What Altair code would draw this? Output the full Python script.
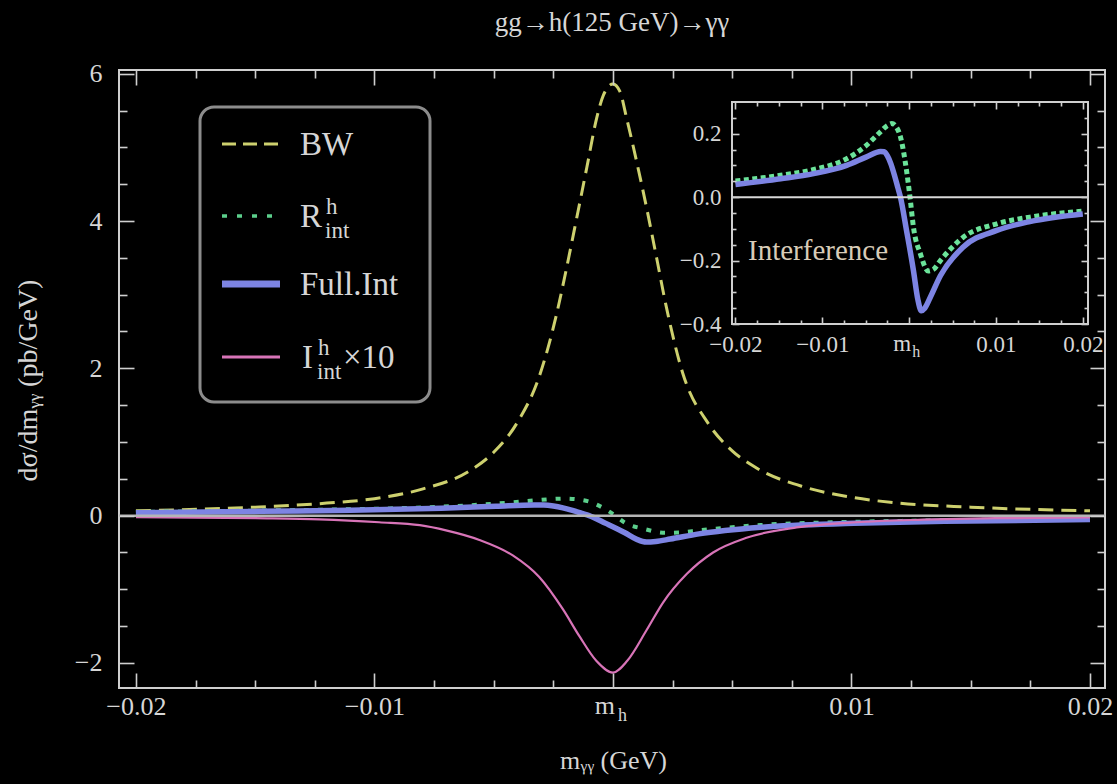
import altair as alt
import pandas as pd

# ------------------------------------------------------------------ data
BW_X = [-0.0200, -0.0150, -0.0120, -0.0100, -0.0080, -0.0060, -0.0050, -0.0040, -0.0031, -0.00236,
        -0.00194, -0.00152, -0.00110, -0.00068, -0.00040, 0.0, 0.00029, 0.00057, 0.00099, 0.00141,
        0.00183, 0.00224, 0.00293, 0.0040, 0.0050, 0.0060, 0.0080, 0.0100, 0.0120, 0.0150, 0.0200]
BW_Y = [0.065, 0.115, 0.17, 0.23, 0.36, 0.61, 0.86, 1.27, 1.88, 2.74,
        3.37, 4.04, 4.72, 5.40, 5.71, 5.86, 5.76, 5.40, 4.81, 4.18,
        3.50, 2.83, 1.93, 1.25, 0.88, 0.65, 0.39, 0.25, 0.17, 0.115, 0.065]

R_X = [-0.0200, -0.0148, -0.0110, -0.0072, -0.0049, -0.0033, -0.0025, -0.0020, -0.0015, -0.0010,
       -0.0003, 0.0001, 0.0005, 0.0013, 0.0022, 0.0028, 0.0036, 0.0062, 0.0101, 0.0139, 0.0200]
R_Y = [0.051, 0.069, 0.087, 0.121, 0.164, 0.206, 0.226, 0.232, 0.222, 0.190,
       0.084, 0.000, -0.095, -0.179, -0.233, -0.228, -0.200, -0.127, -0.084, -0.063, -0.044]

FULL_X = [-0.0200, -0.0148, -0.0110, -0.0072, -0.0049, -0.0033, -0.0029, -0.0025, -0.0021, -0.0017,
          -0.0013, -0.0010, -0.0003, 0.0005, 0.0010, 0.0014, 0.0018, 0.0024, 0.0036, 0.0062,
          0.0101, 0.0139, 0.0200]
FULL_Y = [0.040, 0.058, 0.074, 0.100, 0.127, 0.144, 0.143, 0.130, 0.105, 0.070,
          0.030, 0.000, -0.105, -0.232, -0.322, -0.358, -0.350, -0.318, -0.248, -0.158,
          -0.105, -0.077, -0.053]

INT_X = [-0.0200, -0.0150, -0.0123, -0.0098, -0.0081, -0.0070, -0.0056, -0.0042, -0.0031, -0.0021,
         -0.0014, -0.0007, 0.0000, 0.0006, 0.0014, 0.0021, 0.0031, 0.0042, 0.0056, 0.0077,
         0.0102, 0.0130, 0.0160, 0.0200]
INT_Y = [-0.020, -0.035, -0.050, -0.090, -0.13, -0.20, -0.33, -0.54, -0.83, -1.27,
         -1.64, -1.97, -2.13, -1.97, -1.56, -1.18, -0.79, -0.50, -0.30, -0.16,
         -0.09, -0.055, -0.035, -0.025]

X_MAJOR = [-0.02, -0.01, 0.0, 0.01, 0.02]
X_MINOR = [-0.0175, -0.015, -0.0125, -0.0075, -0.005, -0.0025,
           0.0025, 0.005, 0.0075, 0.0125, 0.015, 0.0175]
Y_MAJOR = [-2, 0, 2, 4, 6]
Y_MINOR = [-1.5, -1, -0.5, 0.5, 1, 1.5, 2.5, 3, 3.5, 4.5, 5, 5.5]
IY_MAJOR = [-0.4, -0.2, 0.0, 0.2]
IY_MINOR = [-0.35, -0.3, -0.25, -0.15, -0.1, -0.05, 0.05, 0.1, 0.15, 0.25]

TITLE = "gg→h(125 GeV)→γγ"
X_TITLE = "mᵧᵧ (GeV)"
Y_TITLE = "dσ/dmᵧᵧ (pb/GeV)"
INSET_LABEL = "Interference"
MH_MAIN, MH_SUB = "m", "h"
LEGEND_LABELS = ["BW", "R", "Full.Int", "I"]
LEGEND_SUP = [None, "h", None, "h"]
LEGEND_SUB = [None, "int", None, "int"]
LEGEND_TAIL = [None, None, None, "×10"]

# ------------------------------------------------------------------ styling / layout
W, H = 986, 618
MX_DOM = [-0.02071, 0.02063]
MY_DOM = [-2.34, 6.05]
IX_DOM = [-0.0204, 0.0206]
IY_DOM = [-0.4, 0.3]
IX_RANGE = [613, 969]
IY_RANGE = [254, 32]

FONT = "Liberation Serif"
TXT = "#d6d6d6"
TICK = "#cfcfcf"
C_BW = "#cdd06e"
C_R = "#5ccf8c"
C_R_IN = "#6be39a"
C_FULL = "#7d84e3"
C_INT = "#d874b8"

MX = alt.Scale(domain=MX_DOM, nice=False, zero=False)
MY = alt.Scale(domain=MY_DOM, nice=False, zero=False)
IX = alt.Scale(domain=IX_DOM, range=IX_RANGE, nice=False, zero=False)
IY = alt.Scale(domain=IY_DOM, range=IY_RANGE, nice=False, zero=False)

XLAB = "datum.value == 0 ? '' : (datum.value < 0 ? '−' + format(-datum.value, '.2f') : format(datum.value, '.2f'))"
YLAB = "datum.value < 0 ? '−' + format(-datum.value, 'd') : format(datum.value, 'd')"
IYLAB = "datum.value < -0.001 ? '−' + format(-datum.value, '.1f') : format(abs(datum.value), '.1f')"


def ax(orient, values, size, offset, **kw):
    d = dict(orient=orient, values=values, tickSize=size, offset=offset, domain=False, grid=False,
             tickColor=TICK, tickWidth=1.6, labels=False, zindex=1, title=None)
    d.update(kw)
    return alt.Axis(**d)


def lab(expr, size, pad):
    return dict(labels=True, labelExpr=expr, labelFont=FONT, labelFontSize=size, labelColor=TXT,
                labelPadding=pad, labelFlush=False, labelOverlap=False)


def line(xs, ys, xs_scale, ys_scale, xaxis, yaxis, **mark):
    return alt.Chart(pd.DataFrame({"x": xs, "v": ys})).mark_line(interpolate="monotone", **mark).encode(
        x=alt.X("x:Q", scale=xs_scale, axis=xaxis),
        y=alt.Y("v:Q", scale=ys_scale, axis=yaxis),
    )


def sub_text(text, scale, size, dx, align, y):
    return alt.Chart(pd.DataFrame({"x": [0.0]})).mark_text(
        text=text, font=FONT, fontSize=size, color=TXT, align=align, baseline="alphabetic", dx=dx
    ).encode(x=alt.X("x:Q", scale=scale, axis=None), y=alt.value(y))


one = pd.DataFrame({"a": [0]})

# ------------------------------------------------------------------ main panel
bw = line(BW_X, BW_Y, MX, MY,
          ax("bottom", X_MAJOR, 15, -15, **lab(XLAB, 26, 5), title=X_TITLE, titleFont=FONT,
             titleFontSize=26, titleColor=TXT, titleFontWeight="normal", titleX=494, titleY=87,
             titleBaseline="middle"),
          ax("left", Y_MAJOR, 15, -15, **lab(YLAB, 26, 17), title=Y_TITLE, titleFont=FONT,
             titleFontSize=28, titleColor=TXT, titleFontWeight="normal", titleX=-106, titleY=310,
             titleAngle=270, titleBaseline="middle", titleAlign="center"),
          color=C_BW, strokeWidth=3, strokeDash=[15, 8])
rr = line(R_X, R_Y, MX, MY, ax("bottom", X_MINOR, 8, -8), ax("left", Y_MINOR, 8, -8),
          color=C_R, strokeWidth=4, strokeDash=[5, 9])
full = line(FULL_X, FULL_Y, MX, MY, ax("top", X_MAJOR, 15, -15), ax("right", Y_MAJOR, 15, -15),
            color=C_FULL, strokeWidth=5.5)
inte = line(INT_X, INT_Y, MX, MY, ax("top", X_MINOR, 8, -8), ax("right", Y_MINOR, 8, -8),
            color=C_INT, strokeWidth=2.2)
zero_main = alt.Chart(pd.DataFrame({"y": [0.0]})).mark_rule(color="#b5b5b5", strokeWidth=2.5).encode(
    y=alt.Y("y:Q", scale=MY, axis=None))

mh_main = sub_text(MH_MAIN, MX, 26, -8, "center", H + 26)
mh_main_sub = sub_text(MH_SUB, MX, 18, 5, "left", H + 33)

title_mark = alt.Chart(one).mark_text(text=TITLE, font=FONT, fontSize=27, color=TXT, align="center",
                                      baseline="alphabetic").encode(x=alt.value(W / 2), y=alt.value(-39))

# ------------------------------------------------------------------ legend
LX0, LX1, LY0, LY1 = 81, 311, 37, 332
ROWS = [74, 146, 214, 287]
SX0, SX1, TX = 103, 161, 181
FS = 33
legend = [alt.Chart(one).mark_rect(cornerRadius=14, fill="black", stroke="#8c8c8c", strokeWidth=3).encode(
    x=alt.value(LX0), x2=alt.value(LX1), y=alt.value(LY0), y2=alt.value(LY1))]
styles = [dict(color=C_BW, strokeWidth=3, strokeDash=[14, 7]),
          dict(color=C_R, strokeWidth=3.5, strokeDash=[5, 10]),
          dict(color=C_FULL, strokeWidth=7),
          dict(color=C_INT, strokeWidth=3)]
main_w = [0, 22, 0, 12]
for i, lbl in enumerate(LEGEND_LABELS):
    yy = ROWS[i]
    legend.append(alt.Chart(one).mark_rule(**styles[i]).encode(
        x=alt.value(SX0), x2=alt.value(SX1), y=alt.value(yy)))
    legend.append(alt.Chart(one).mark_text(text=lbl, font=FONT, fontSize=FS, color=TXT, align="left",
                                           baseline="alphabetic").encode(
        x=alt.value(TX if i != 3 else TX + 2), y=alt.value(yy + 11)))
    if LEGEND_SUP[i]:
        xs = TX + main_w[i] + (4 if i == 1 else 6)
        legend.append(alt.Chart(one).mark_text(text=LEGEND_SUP[i], font=FONT, fontSize=23, color=TXT,
                                               align="left", baseline="alphabetic").encode(
            x=alt.value(xs), y=alt.value(yy - 2)))
        legend.append(alt.Chart(one).mark_text(text=LEGEND_SUB[i], font=FONT, fontSize=23, color=TXT,
                                               align="left", baseline="alphabetic").encode(
            x=alt.value(xs - 1), y=alt.value(yy + 22)))
    if LEGEND_TAIL[i]:
        legend.append(alt.Chart(one).mark_text(text=LEGEND_TAIL[i], font=FONT, fontSize=FS, color=TXT,
                                               align="left", baseline="alphabetic").encode(
            x=alt.value(TX + 43), y=alt.value(yy + 11)))

# ------------------------------------------------------------------ inset
frame = alt.Chart(pd.DataFrame({"x0": [IX_DOM[0]], "x1": [IX_DOM[1]], "y0": [IY_DOM[0]], "y1": [IY_DOM[1]]})
                  ).mark_rect(fill="black", stroke=TICK, strokeWidth=2).encode(
    x=alt.X("x0:Q", scale=IX, axis=None), x2="x1",
    y=alt.Y("y0:Q", scale=IY, axis=None), y2="y1")
in_r = line(R_X, R_Y, IX, IY,
            ax("bottom", X_MAJOR, 7, 254 - 7 - H, **lab(XLAB, 23, 9)),
            ax("left", IY_MAJOR, 7, -(IX_RANGE[0] + 7), **lab(IYLAB, 23, 11)),
            color=C_R_IN, strokeWidth=5, strokeDash=[5, 3.5])
in_full = line(FULL_X, FULL_Y, IX, IY,
               ax("bottom", X_MINOR, 4, 254 - 4 - H),
               ax("left", IY_MINOR, 4, -(IX_RANGE[0] + 4)),
               color=C_FULL, strokeWidth=5.5)
in_ax1 = line(FULL_X, FULL_Y, IX, IY,
              ax("top", X_MAJOR, 7, -(IY_RANGE[1] + 7)),
              ax("right", IY_MAJOR, 7, IX_RANGE[1] - 7 - W), opacity=0)
in_ax2 = line(FULL_X, FULL_Y, IX, IY,
              ax("top", X_MINOR, 4, -(IY_RANGE[1] + 4)),
              ax("right", IY_MINOR, 4, IX_RANGE[1] - 4 - W), opacity=0)
zero_in = alt.Chart(pd.DataFrame({"x0": [IX_DOM[0]], "x1": [IX_DOM[1]], "y": [0.0]})).mark_rule(
    color="#d8d8d8", strokeWidth=2).encode(
    x=alt.X("x0:Q", scale=IX, axis=None), x2="x1", y=alt.Y("y:Q", scale=IY, axis=None))
in_text = alt.Chart(one).mark_text(text=INSET_LABEL, font=FONT, fontSize=29, color="#d8ccb8",
                                   align="left", baseline="alphabetic").encode(
    x=alt.value(629), y=alt.value(190))
mh_in = sub_text(MH_MAIN, IX, 23, -7, "center", 254 + 9 + 18)
mh_in_sub = sub_text(MH_SUB, IX, 16, 3, "left", 254 + 9 + 24)

layers = [bw, rr, full, inte, zero_main, mh_main, mh_main_sub, title_mark] + legend + \
         [frame, in_r, in_full, in_ax1, in_ax2, zero_in, in_text, mh_in, mh_in_sub]

chart = alt.layer(*layers).resolve_scale(x="independent", y="independent").properties(
    width=W, height=H,
    autosize=alt.AutoSizeParams(type="none"),
    padding={"left": 119, "top": 70, "right": 12, "bottom": 96},
    background="black",
).configure_view(stroke=TICK, strokeWidth=2)

chart.save("out.html", embed_options={"renderer": "svg", "actions": False})
